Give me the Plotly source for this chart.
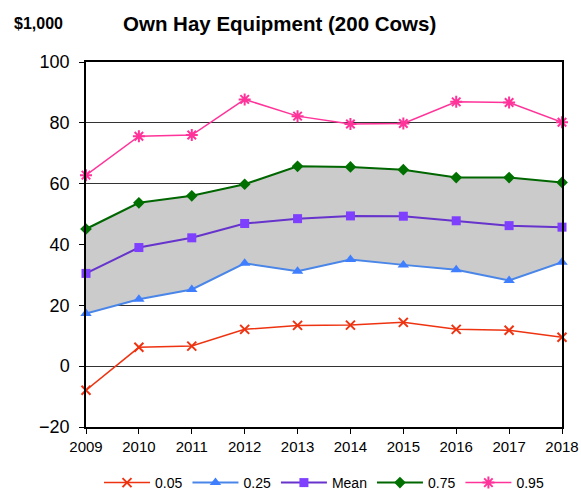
import plotly.graph_objects as go

years = [2009, 2010, 2011, 2012, 2013, 2014, 2015, 2016, 2017, 2018]
p05 = [-7.9, 6.2, 6.6, 12.1, 13.4, 13.5, 14.4, 12.1, 11.8, 9.5]
p25 = [17.3, 22.0, 25.2, 33.8, 31.2, 35.1, 33.3, 31.7, 28.2, 34.2]
mean = [30.5, 39.0, 42.2, 46.9, 48.5, 49.4, 49.3, 47.8, 46.2, 45.7]
p75 = [45.1, 53.7, 56.0, 59.8, 65.7, 65.5, 64.6, 62.0, 62.0, 60.4]
p95 = [62.8, 75.6, 76.0, 87.7, 82.2, 79.6, 79.8, 86.9, 86.7, 80.2]
y_ticks = [-20, 0, 20, 40, 60, 80, 100]

fig = go.Figure()
# shaded band between 0.25 and 0.75
fig.add_trace(go.Scatter(x=years, y=p25, mode="lines", line=dict(width=0),
                         showlegend=False, hoverinfo="skip"))
fig.add_trace(go.Scatter(x=years, y=p75, mode="lines", line=dict(width=0),
                         fill="tonexty", fillcolor="#cbcbcb",
                         showlegend=False, hoverinfo="skip"))

fig.add_trace(go.Scatter(x=years, y=p05, name="0.05", mode="lines+markers",
                         line=dict(color="#ee3311", width=1.5),
                         marker=dict(symbol="x-thin-open", size=9,
                                     line=dict(color="#ee3311", width=2))))
fig.add_trace(go.Scatter(x=years, y=p25, name="0.25", mode="lines+markers",
                         line=dict(color="#4a86e8", width=2),
                         marker=dict(symbol="triangle-up", size=10, color="#3f7fff")))
fig.add_trace(go.Scatter(x=years, y=mean, name="Mean", mode="lines+markers",
                         line=dict(color="#6633cc", width=2),
                         marker=dict(symbol="square", size=9, color="#7f3fff")))
fig.add_trace(go.Scatter(x=years, y=p75, name="0.75", mode="lines+markers",
                         line=dict(color="#006600", width=2),
                         marker=dict(symbol="diamond", size=9, color="#007000")))
fig.add_trace(go.Scatter(x=years, y=p95, name="0.95", mode="lines+markers",
                         line=dict(color="#ff3399", width=1.5),
                         marker=dict(symbol="asterisk-open", size=10,
                                     line=dict(color="#ff3399", width=2))))

W, H = 581 - 86 - 19, 490 - 62 - 63

fig.update_layout(
    width=581, height=490,
    margin=dict(l=86, r=19, t=62, b=63, autoexpand=False),
    paper_bgcolor="white", plot_bgcolor="white",
    font=dict(family="Liberation Sans, Arial, sans-serif", color="black", size=14),
    showlegend=True,
    legend=dict(orientation="h", traceorder="normal", x=0.5, xanchor="center",
                y=(427 - 483) / H, yanchor="middle", itemwidth=46,
                font=dict(size=14), tracegroupgap=0),
    annotations=[
        dict(text="<b>Own Hay Equipment (200 Cows)</b>", x=(279 - 86) / W,
             y=(427 - 24) / H, xref="paper", yref="paper", showarrow=False,
             xanchor="center", yanchor="middle", font=dict(size=20.5)),
        dict(text="<b>$1,000</b>", x=(38 - 86) / W, y=(427 - 24) / H,
             xref="paper", yref="paper", showarrow=False,
             xanchor="center", yanchor="middle", font=dict(size=16)),
    ],
)

fig.update_xaxes(range=[2009, 2018], tickvals=years, ticks="outside", ticklen=5,
                 tickcolor="black", showline=True, linecolor="black", linewidth=1.5,
                 mirror=True, showgrid=False, zeroline=False, tickfont=dict(size=15))
fig.update_yaxes(range=[-20, 100], tickvals=y_ticks, ticks="outside", ticklen=5,
                 tickcolor="black", showline=True, linecolor="black", linewidth=1.5,
                 mirror=True, showgrid=True, gridcolor="#333333", gridwidth=1,
                 zeroline=False, tickfont=dict(size=18), ticklabelstandoff=6)
fig.update_traces(cliponaxis=False)

fig.write_html("out.html")
